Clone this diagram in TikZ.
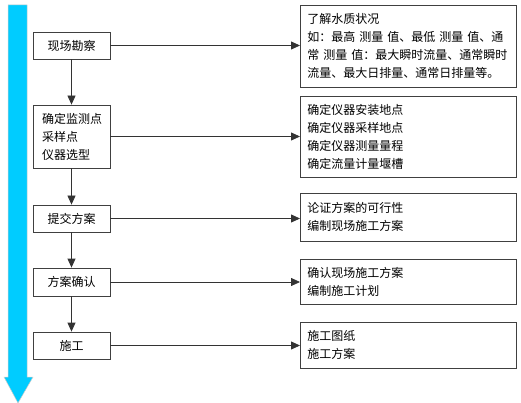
\documentclass[tikz,border=0pt]{standalone}
\usepackage{fontspec}
\setmainfont{Noto Sans CJK SC}
\usetikzlibrary{arrows.meta}
\definecolor{flowblue}{RGB}{0,204,255}
\newcommand{\gap}{\kern4pt}
\tikzset{
    stage/.style={draw=black!75, line width=0.8pt, minimum width=77pt,
        inner xsep=9pt, inner ysep=4.5pt, text width=59pt,
        font=\fontsize{12pt}{18pt}\selectfont},
    note/.style={draw=black!75, line width=0.8pt, anchor=west,
        inner xsep=7pt, inner ysep=5pt, text width=202pt, align=left,
        font=\fontsize{12pt}{18pt}\selectfont},
    flow/.style={draw=black!80, line width=0.8pt,
        -{Triangle[width=8pt,length=9pt]}}
}
\begin{document}
\begin{tikzpicture}[x=1pt, y=-1pt]
    \useasboundingbox (0,0) rectangle (521,403);
    % time axis
    \filldraw[fill=flowblue, draw=black!20, line width=0.5pt]
        (8,5) -- (27,5) -- (27,377) -- (33,377) -- (18,403)
        -- (4,377) -- (8,377) -- cycle;
    % left column
    \node[stage, align=center, minimum height=27pt] (s1) at (71.5,45.5) {现场勘察};
    \node[stage, align=left, minimum height=63pt] (s2) at (71.5,136.5) {确定监测点\\采样点\\仪器选型};
    \node[stage, align=center, minimum height=27pt] (s3) at (71.5,218.5) {提交方案};
    \node[stage, align=center, minimum height=28pt] (s4) at (71.5,282) {方案确认};
    \node[stage, align=center, minimum height=27pt] (s5) at (71.5,345.5) {施工};
    % right column
    \node[note, minimum height=82pt] (n1) at (300,46) {了解水质状况\\如：最高\gap 测量\gap 值、最低\gap 测量\gap 值、通\\常\gap 测量\gap 值：最大瞬时流量、通常瞬时\\流量、最大日排量、通常日排量等。};
    \node[note, minimum height=81pt] (n2) at (300,136.5) {确定仪器安装地点\\确定仪器采样地点\\确定仪器测量量程\\确定流量计量堰槽};
    \node[note, minimum height=48pt] (n3) at (300,217) {论证方案的可行性\\编制现场施工方案};
    \node[note, minimum height=45pt] (n4) at (300,281.5) {确认现场施工方案\\编制施工计划};
    \node[note, minimum height=46pt] (n5) at (300,345) {施工图纸\\施工方案};
    % connectors
    \foreach \a/\b in {s1/s2, s2/s3, s3/s4, s4/s5}
        \draw[flow] (\a) -- (\b);
    \foreach \i in {1,...,5}
        \draw[flow] (s\i.east) -- (s\i.east -| n\i.west);
\end{tikzpicture}
\end{document}
